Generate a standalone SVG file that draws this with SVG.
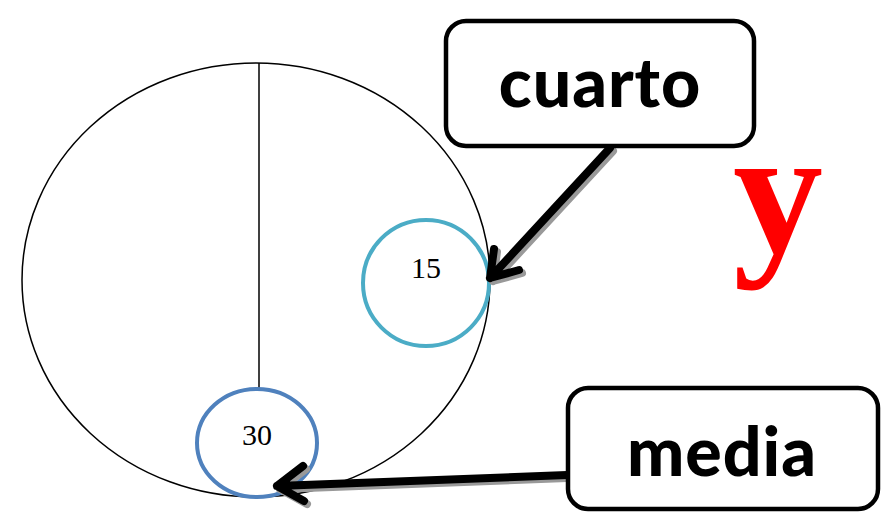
<svg xmlns="http://www.w3.org/2000/svg" width="885" height="515" viewBox="0 0 885 515">
<defs>
<style>
.thin{fill:none;stroke:#000;stroke-width:1.5}
.box{fill:#fff;stroke:#000;stroke-width:4.5}
.lbl{font-family:Lato,"DejaVu Sans",sans-serif;font-weight:900;font-size:68px;letter-spacing:1px;fill:#000;text-anchor:middle}
.num{font-family:"Liberation Serif",serif;font-size:30px;fill:#000;text-anchor:middle}
.arr{fill:none;stroke:#000;stroke-width:8;stroke-linecap:round;stroke-linejoin:round}
.sh{fill:none;stroke:#999;stroke-width:8;stroke-linecap:round;stroke-linejoin:round}
</style>
</defs>
<rect width="885" height="515" fill="#fff"/>
<g id="big-circle">
<ellipse class="thin" cx="256" cy="280" rx="234" ry="217"/>
<line class="thin" x1="259" y1="63" x2="259" y2="390"/>
</g>
<g id="node-15">
<circle cx="426" cy="283" r="63" fill="none" stroke="#4bacc6" stroke-width="4"/>
<text class="num" x="426" y="278">15</text>
</g>
<g id="node-30">
<ellipse cx="257" cy="443" rx="60" ry="54" fill="none" stroke="#4f81bd" stroke-width="4"/>
<text class="num" x="257" y="445">30</text>
</g>
<g id="connectors">
<path class="sh" d="M613 151 L493 281 M497 252 L493 281 L522 273"/>
<path class="sh" d="M567 478 L280 489 M306 469 L280 489 L307 504"/>
<path class="arr" d="M610 148 L490 278 M494 249 L490 278 L519 270"/>
<path class="arr" d="M567 475 L277 486 M303 466 L277 486 L304 501"/>
</g>
<g id="cuarto">
<rect class="box" x="446" y="21" width="308" height="125" rx="20"/>
<text class="lbl" x="600" y="107">cuarto</text>
</g>
<g id="media">
<rect class="box" x="568" y="388" width="310" height="121" rx="20"/>
<text class="lbl" x="722" y="476">media</text>
</g>
<g id="y">
<text x="778" y="252" font-family="Liberation Serif,serif" font-weight="bold" font-size="180" fill="#f00" text-anchor="middle">y</text>
</g>
</svg>
